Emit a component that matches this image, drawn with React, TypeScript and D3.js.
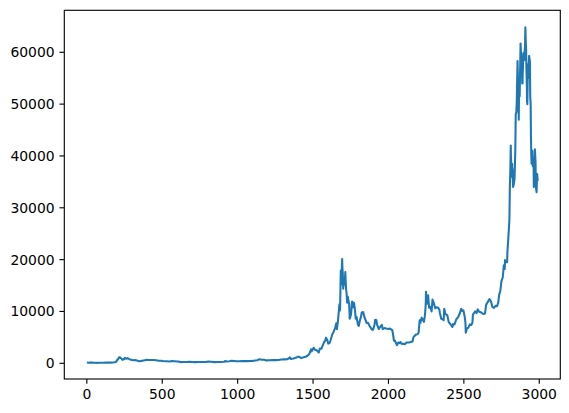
import React from "react";
import * as d3 from "d3";

// Day index (rows since 2013-04-29) and daily high price (USD)
const days: number[] = [
  0, 10, 20, 33, 50, 63, 68, 80, 94, 110, 125, 140, 155, 170, 186, 196, 203, 207, 214, 219,
  224, 230, 234, 237, 243, 247, 252, 260, 270, 278, 288, 300, 306, 320, 337, 346, 360, 367, 385, 398,
  410, 428, 445, 459, 476, 490, 505, 520, 530, 550, 563, 581, 600, 612, 625, 640, 660, 671, 680, 700,
  715, 740, 763, 790, 805, 824, 846, 870, 885, 910, 919, 925, 946, 960, 977, 991, 1010, 1030, 1045, 1068,
  1085, 1100, 1115, 1130, 1140, 1145, 1160, 1175, 1190, 1210, 1235, 1250, 1270, 1290, 1310, 1330, 1343, 1346, 1353, 1370,
  1385, 1395, 1403, 1411, 1422, 1433, 1450, 1463, 1475, 1487, 1490, 1494, 1504, 1510, 1524, 1538, 1545, 1555, 1565, 1575,
  1580, 1586, 1595, 1601, 1610, 1616, 1628, 1637, 1647, 1654, 1658, 1665, 1675, 1679, 1684, 1687, 1690, 1693, 1695, 1697,
  1700, 1703, 1706, 1710, 1714, 1716, 1719, 1722, 1726, 1730, 1735, 1739, 1742, 1743, 1747, 1752, 1759, 1765, 1771, 1777,
  1783, 1788, 1798, 1803, 1810, 1818, 1823, 1832, 1842, 1855, 1865, 1875, 1890, 1898, 1908, 1912, 1920, 1925, 1930, 1935,
  1945, 1957, 1962, 1975, 1985, 2000, 2010, 2025, 2030, 2036, 2042, 2053, 2057, 2065, 2073, 2080, 2085, 2100, 2110, 2120,
  2135, 2160, 2165, 2180, 2192, 2200, 2207, 2212, 2220, 2228, 2235, 2242, 2247, 2249, 2252, 2256, 2263, 2266, 2270, 2278,
  2286, 2292, 2300, 2310, 2318, 2330, 2338, 2341, 2350, 2360, 2366, 2370, 2378, 2390, 2400, 2410, 2424, 2430, 2438, 2450,
  2462, 2475, 2482, 2490, 2497, 2505, 2510, 2513, 2520, 2530, 2540, 2550, 2557, 2560, 2575, 2585, 2592, 2600, 2615, 2630,
  2640, 2648, 2660, 2670, 2680, 2690, 2700, 2710, 2720, 2728, 2734, 2742, 2749, 2758, 2765, 2771, 2773, 2780, 2787, 2789,
  2795, 2802, 2805, 2808, 2811, 2812, 2814, 2815, 2817, 2818, 2820, 2822, 2823, 2826, 2830, 2836, 2841, 2844, 2848, 2851,
  2856, 2858, 2861, 2863, 2864, 2866, 2867, 2870, 2873, 2876, 2880, 2883, 2885, 2887, 2889, 2890, 2892, 2894, 2896, 2900,
  2901, 2903, 2906, 2907, 2908, 2910, 2913, 2915, 2916, 2918, 2919, 2921, 2924, 2926, 2928, 2931, 2933, 2936, 2938, 2940,
  2943, 2944, 2945, 2947, 2949, 2950, 2954, 2957, 2961, 2963, 2964, 2968, 2971, 2975, 2978, 2982, 2986, 2990,
];

const prices: number[] = [
  147, 118, 125, 131, 112, 92, 75, 96, 107, 112, 130, 128, 128, 145, 212, 355, 740, 780, 1160, 1180,
  1000, 920, 760, 660, 760, 800, 1050, 880, 990, 860, 720, 640, 590, 620, 500, 400, 460, 470, 590, 670,
  630, 650, 630, 600, 490, 490, 430, 400, 380, 340, 440, 390, 340, 320, 225, 245, 250, 270, 300, 260,
  230, 245, 235, 260, 320, 290, 230, 245, 245, 300, 440, 350, 380, 470, 440, 390, 390, 445, 420, 420,
  455, 460, 540, 590, 750, 780, 690, 670, 560, 590, 610, 615, 650, 720, 750, 790, 1020, 1160, 830, 930,
  1050, 1200, 1290, 1200, 1000, 1100, 1240, 1450, 1800, 2700, 2300, 2450, 3000, 2650, 2500, 2100, 2850, 2800, 3500, 4200,
  4300, 4950, 4400, 3800, 3950, 4450, 5600, 6100, 6900, 7700, 6600, 8100, 11400, 10200, 17900, 15200, 17900, 20100, 18100, 17500,
  14400, 16000, 15200, 15500, 17600, 16000, 14300, 13600, 11700, 12900, 12000, 11600, 9700, 8600, 8900, 9500, 11900, 10800, 11700, 10600,
  8600, 9000, 7400, 7200, 8200, 9000, 9800, 9900, 8800, 7800, 7800, 7200, 6500, 6500, 7500, 8400, 8300, 7400, 7100, 6600,
  7000, 7400, 6600, 6800, 6700, 6600, 6700, 6400, 5700, 4400, 4400, 3700, 3500, 4000, 3900, 4100, 3800, 3750, 3700, 4000,
  4000, 4200, 5000, 5500, 5600, 5900, 8300, 7800, 8800, 8400, 8000, 9300, 11300, 13800, 12100, 11500, 13100, 12000, 10700, 10900,
  10000, 12300, 11700, 10600, 10800, 10700, 10300, 9700, 8600, 8500, 8300, 10500, 9500, 9300, 7900, 7600, 7000, 7600, 7500, 8500,
  8900, 9800, 10500, 10100, 10200, 9100, 8000, 5900, 6700, 6900, 7500, 7400, 7900, 9400, 10000, 9700, 10400, 10000, 9800, 9500,
  9600, 11300, 11900, 12400, 11900, 10800, 10700, 11100, 11000, 11700, 13200, 14000, 15800, 16600, 18900, 18200, 19900, 19500, 19500, 21600,
  24200, 27700, 34000, 37000, 42000, 40000, 38500, 36500, 36000, 37800, 38500, 36700, 37500, 34000, 34400, 35500, 41000, 48000, 48500, 50600,
  58300, 55500, 48500, 50000, 47000, 52500, 52600, 51500, 56500, 61700, 59000, 57600, 58600, 54000, 54000, 55800, 57000, 59800, 59200, 59500,
  58500, 60200, 61300, 63700, 64800, 62500, 60400, 56500, 55800, 53000, 50500, 50000, 56400, 55000, 57700, 58000, 59300, 58500, 58200, 51500,
  50000, 46500, 43500, 40500, 38500, 40000, 41000, 38000, 39500, 37000, 34000, 37600, 41300, 39000, 34000, 33000, 36500, 35200,
];

const xTicks: number[] = [0, 500, 1000, 1500, 2000, 2500, 3000];
const yTicks: number[] = [0, 10000, 20000, 30000, 40000, 50000, 60000];

const W = 569;
const H = 413;
const left = 64.3;
const right = 560.3;
const top = 10.3;
const bottom = 379;
const FONT = "'DejaVu Sans', sans-serif";
const FS = 13.9;
const TICK = 4.86;
const PAD = 4.86;
const AXW = 1.11;

export default function App() {
  const x = d3.scaleLinear().domain([-149.5, 3139.5]).range([left, right]);
  const y = d3.scaleLinear().domain([-3030, 68100]).range([bottom, top]);
  const pts: [number, number][] = days.map((d, i) => [d, prices[i]]);
  const line = d3
    .line<[number, number]>()
    .x((p) => x(p[0]))
    .y((p) => y(p[1]));

  return (
    <svg
      width={W}
      height={H}
      style={{ position: "absolute", left: 0, top: 0, background: "#fff" }}
    >
      <rect x={0} y={0} width={W} height={H} fill="#fff" />
      <path
        d={line(pts) || ""}
        fill="none"
        stroke="#1f77b4"
        strokeWidth={2.08}
        strokeLinejoin="round"
      />
      <rect
        x={left}
        y={top}
        width={right - left}
        height={bottom - top}
        fill="none"
        stroke="#000"
        strokeWidth={AXW}
      />
      {xTicks.map((t) => (
        <g key={"x" + t}>
          <line x1={x(t)} x2={x(t)} y1={bottom} y2={bottom + TICK} stroke="#000" strokeWidth={AXW} />
          <text
            x={x(t)}
            y={bottom + TICK + PAD}
            textAnchor="middle"
            dominantBaseline="hanging"
            fontFamily={FONT}
            fontSize={FS}
            fill="#000"
          >
            {t}
          </text>
        </g>
      ))}
      {yTicks.map((t) => (
        <g key={"y" + t}>
          <line x1={left - TICK} x2={left} y1={y(t)} y2={y(t)} stroke="#000" strokeWidth={AXW} />
          <text
            x={left - TICK - PAD}
            y={y(t)}
            textAnchor="end"
            dominantBaseline="central"
            fontFamily={FONT}
            fontSize={FS}
            fill="#000"
          >
            {t}
          </text>
        </g>
      ))}
    </svg>
  );
}
